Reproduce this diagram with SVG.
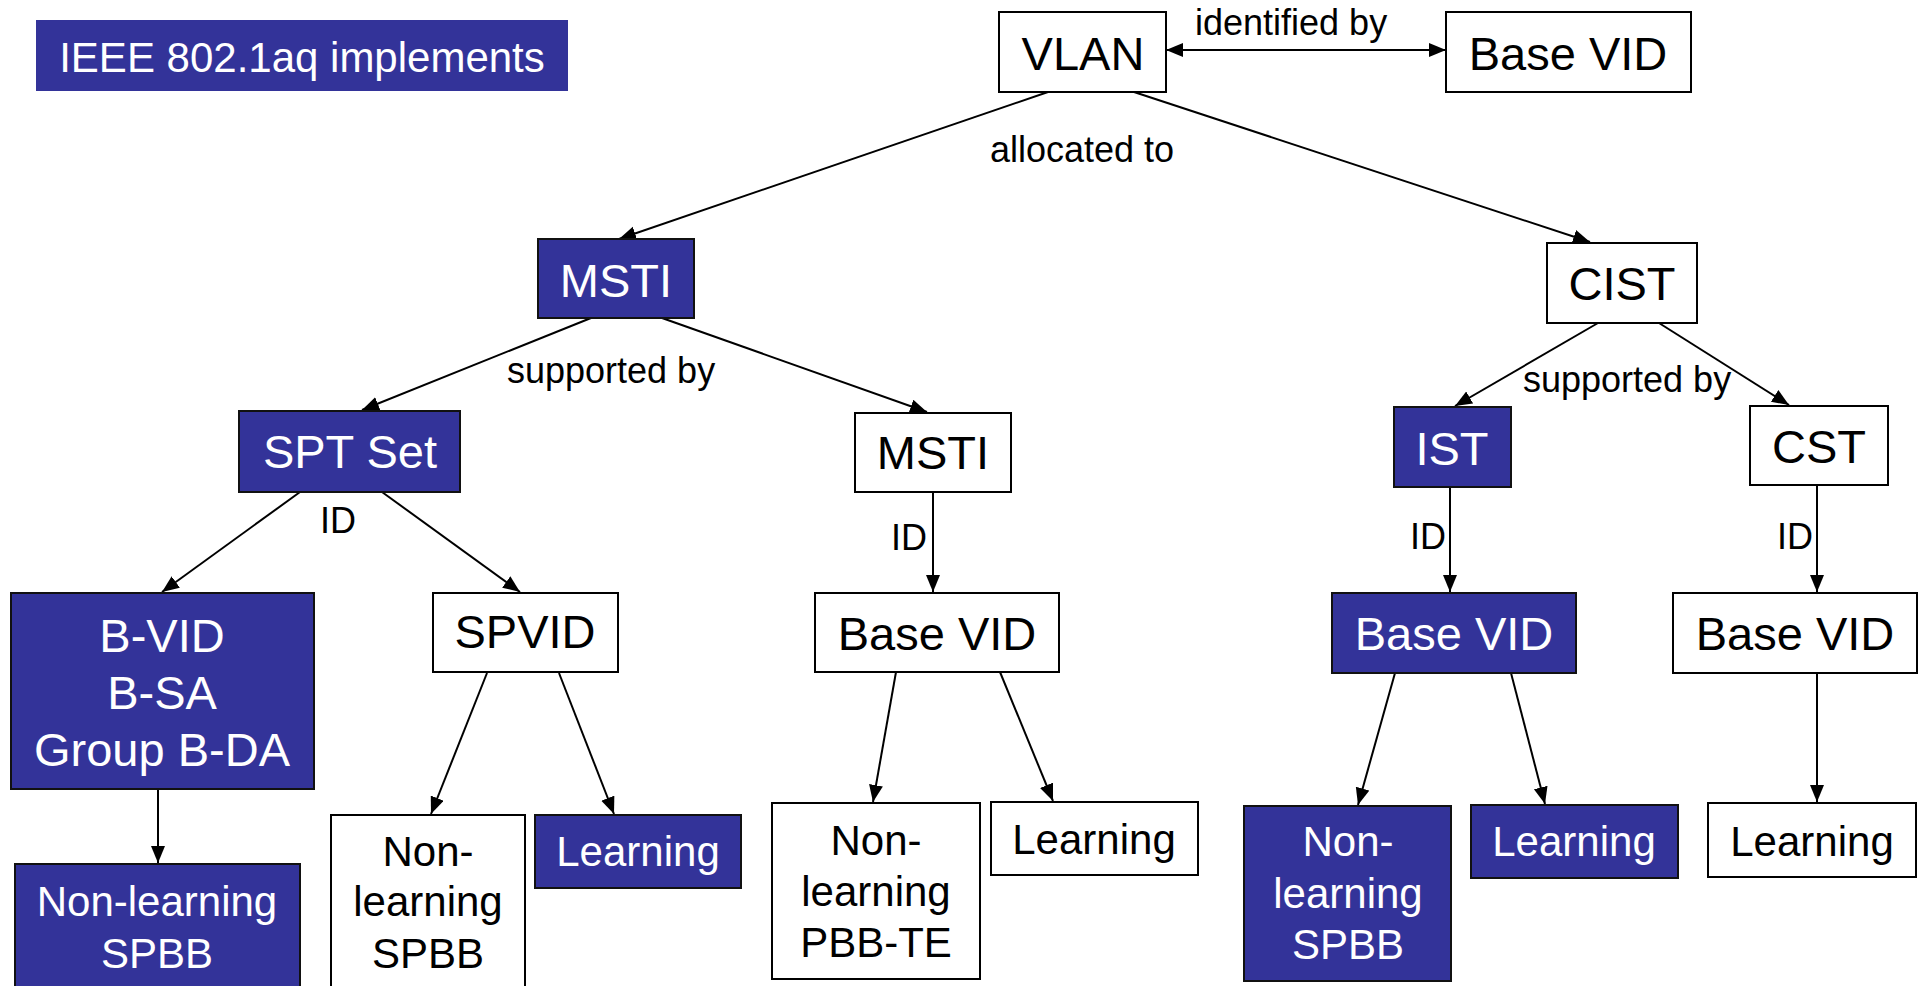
<svg xmlns="http://www.w3.org/2000/svg" width="1920" height="986" viewBox="0 0 1920 986">
  <defs>
    <marker id="arrow" markerUnits="userSpaceOnUse" markerWidth="18" markerHeight="16" refX="17" refY="7" orient="auto-start-reverse">
      <path d="M0,0 L17,7 L0,14 z" fill="#000"/>
    </marker>
    <style>
      .box { fill: #fff; stroke: #000; stroke-width: 2; }
      .blue { fill: #333399; stroke: #111; stroke-width: 2; }
      .t { font-family: "Liberation Sans", Arial, sans-serif; text-anchor: middle; }
      .n { font-size: 47px; }
      .leaf { font-size: 42px; }
      .lbl { font-family: "Liberation Sans", Arial, sans-serif; font-size: 36px; fill: #000; }
      .dark { fill: #000; }
      .light { fill: #fff; }
      .edge { stroke: #000; stroke-width: 2; fill: none; marker-end: url(#arrow); }
    </style>
  </defs>
  <rect width="1920" height="986" fill="#fff"/>

  <!-- heading banner -->
  <g id="title">
    <rect x="36" y="20" width="532" height="71" fill="#333399"/>
    <text class="t light" x="302" y="72" font-size="42">IEEE 802.1aq implements</text>
  </g>

  <!-- connectors -->
  <g id="connectors">
    <line class="edge" x1="1166" y1="50" x2="1446" y2="50" marker-start="url(#arrow)"/>
    <line class="edge" x1="1048" y1="92" x2="619" y2="239"/>
    <line class="edge" x1="1134" y1="92" x2="1590" y2="242"/>
    <line class="edge" x1="591" y1="318" x2="362" y2="410"/>
    <line class="edge" x1="662" y1="318" x2="927" y2="412"/>
    <line class="edge" x1="1598" y1="323" x2="1455" y2="406"/>
    <line class="edge" x1="1659" y1="323" x2="1789" y2="405"/>
    <line class="edge" x1="300" y1="492" x2="162" y2="592"/>
    <line class="edge" x1="382" y1="492" x2="520" y2="592"/>
    <line class="edge" x1="933" y1="492" x2="933" y2="592"/>
    <line class="edge" x1="1450" y1="487" x2="1450" y2="592"/>
    <line class="edge" x1="1817" y1="485" x2="1817" y2="592"/>
    <line class="edge" x1="158" y1="789" x2="158" y2="863"/>
    <line class="edge" x1="487" y1="673" x2="431" y2="814"/>
    <line class="edge" x1="559" y1="673" x2="614" y2="814"/>
    <line class="edge" x1="896" y1="672" x2="873" y2="802"/>
    <line class="edge" x1="1000" y1="672" x2="1053" y2="801"/>
    <line class="edge" x1="1395" y1="673" x2="1358" y2="805"/>
    <line class="edge" x1="1511" y1="673" x2="1545" y2="804"/>
    <line class="edge" x1="1817" y1="673" x2="1817" y2="802"/>

    <text class="lbl" x="1195" y="35">identified by</text>
    <text class="lbl" x="990" y="162">allocated to</text>
    <text class="lbl" x="507" y="383">supported by</text>
    <text class="lbl" x="1523" y="392">supported by</text>
    <text class="lbl" x="320" y="533">ID</text>
    <text class="lbl" x="891" y="550">ID</text>
    <text class="lbl" x="1410" y="549">ID</text>
    <text class="lbl" x="1777" y="549">ID</text>
  </g>

  <!-- top level -->
  <g id="vlan">
    <rect class="box" x="999" y="12" width="167" height="80"/>
    <text class="t n dark" x="1083" y="70">VLAN</text>
  </g>
  <g id="base-vid-top">
    <rect class="box" x="1446" y="12" width="245" height="80"/>
    <text class="t n dark" x="1568" y="70">Base VID</text>
  </g>

  <!-- spanning tree instances -->
  <g id="msti-blue">
    <rect class="blue" x="538" y="239" width="156" height="79"/>
    <text class="t n light" x="616" y="297">MSTI</text>
  </g>
  <g id="cist">
    <rect class="box" x="1547" y="243" width="150" height="80"/>
    <text class="t n dark" x="1622" y="300">CIST</text>
  </g>

  <!-- supporting trees -->
  <g id="spt-set">
    <rect class="blue" x="239" y="411" width="221" height="81"/>
    <text class="t n light" x="350" y="468">SPT Set</text>
  </g>
  <g id="msti-white">
    <rect class="box" x="855" y="413" width="156" height="79"/>
    <text class="t n dark" x="933" y="469">MSTI</text>
  </g>
  <g id="ist">
    <rect class="blue" x="1394" y="407" width="117" height="80"/>
    <text class="t n light" x="1452" y="465">IST</text>
  </g>
  <g id="cst">
    <rect class="box" x="1750" y="406" width="138" height="79"/>
    <text class="t n dark" x="1819" y="463">CST</text>
  </g>

  <!-- identifiers -->
  <g id="bvid">
    <rect class="blue" x="11" y="593" width="303" height="196"/>
    <text class="t n light" x="162" y="652">B-VID</text>
    <text class="t n light" x="162" y="709">B-SA</text>
    <text class="t n light" x="162" y="766">Group B-DA</text>
  </g>
  <g id="spvid">
    <rect class="box" x="433" y="593" width="185" height="79"/>
    <text class="t n dark" x="525" y="648">SPVID</text>
  </g>
  <g id="base-vid-msti">
    <rect class="box" x="815" y="593" width="244" height="79"/>
    <text class="t n dark" x="937" y="650">Base VID</text>
  </g>
  <g id="base-vid-ist">
    <rect class="blue" x="1332" y="593" width="244" height="80"/>
    <text class="t n light" x="1454" y="650">Base VID</text>
  </g>
  <g id="base-vid-cst">
    <rect class="box" x="1673" y="593" width="244" height="80"/>
    <text class="t n dark" x="1795" y="650">Base VID</text>
  </g>

  <!-- bridging modes -->
  <g id="nl-spbb-a">
    <rect class="blue" x="15" y="864" width="285" height="140"/>
    <text class="t leaf light" x="157" y="916">Non-learning</text>
    <text class="t leaf light" x="157" y="968">SPBB</text>
  </g>
  <g id="nl-spbb-b">
    <rect class="box" x="331" y="815" width="194" height="190"/>
    <text class="t leaf dark" x="428" y="866">Non-</text>
    <text class="t leaf dark" x="428" y="916">learning</text>
    <text class="t leaf dark" x="428" y="968">SPBB</text>
  </g>
  <g id="learning-a">
    <rect class="blue" x="535" y="815" width="206" height="73"/>
    <text class="t leaf light" x="638" y="866">Learning</text>
  </g>
  <g id="nl-pbbte">
    <rect class="box" x="772" y="803" width="208" height="176"/>
    <text class="t leaf dark" x="876" y="855">Non-</text>
    <text class="t leaf dark" x="876" y="906">learning</text>
    <text class="t leaf dark" x="876" y="957">PBB-TE</text>
  </g>
  <g id="learning-b">
    <rect class="box" x="991" y="802" width="207" height="73"/>
    <text class="t leaf dark" x="1094" y="854">Learning</text>
  </g>
  <g id="nl-spbb-c">
    <rect class="blue" x="1244" y="806" width="207" height="175"/>
    <text class="t leaf light" x="1348" y="856">Non-</text>
    <text class="t leaf light" x="1348" y="908">learning</text>
    <text class="t leaf light" x="1348" y="959">SPBB</text>
  </g>
  <g id="learning-c">
    <rect class="blue" x="1471" y="805" width="207" height="73"/>
    <text class="t leaf light" x="1574" y="856">Learning</text>
  </g>
  <g id="learning-d">
    <rect class="box" x="1708" y="803" width="208" height="74"/>
    <text class="t leaf dark" x="1812" y="856">Learning</text>
  </g>
</svg>
